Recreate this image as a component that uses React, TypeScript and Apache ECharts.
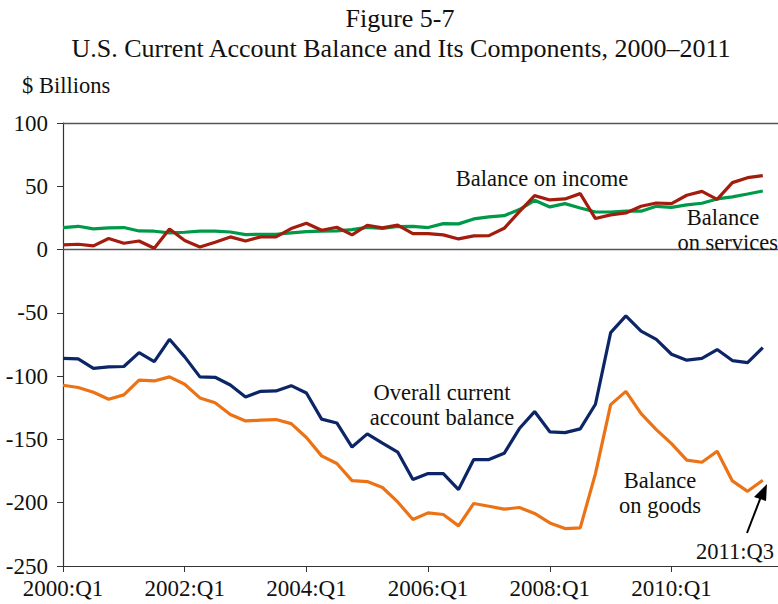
import React, { useEffect, useRef } from "react";
import * as echarts from "echarts";

const years = [2000, 2001, 2002, 2003, 2004, 2005, 2006, 2007, 2008, 2009, 2010, 2011];
const quarters = ["Q1", "Q2", "Q3", "Q4"];
const categories: string[] = [];
years.forEach((y) => quarters.forEach((q) => categories.push(`${y}:${q}`)));

const overall = [
  -86, -86.4, -93.8, -92.7, -92.4, -81.4, -88.5, -70.9, -84.8, -100.6, -100.9, -107,
  -116.4, -112, -111.7, -107.5, -113.3, -134, -137, -156, -145.6, -153, -160, -181.7,
  -177, -177, -189.6, -165.9, -165.9, -161, -141.4, -128, -144, -144.6, -141.7, -122.2,
  -65.6, -52.4, -64.5, -71, -82.7, -87.4, -85.9, -79, -87.7, -89.3, -77.4,
];
const goods = [
  -107.2, -109, -112.7, -118.2, -114.8, -103.2, -103.8, -100.6, -106.4, -117.2, -121.1, -130.3,
  -135.4, -134.8, -134.3, -137.5, -148.5, -163, -169, -182.5, -183.3, -188, -199.4, -213.3,
  -208, -209.3, -218.3, -200.6, -202.8, -205.1, -203.8, -208.5, -216, -220.4, -219.9, -177,
  -122.5, -112, -129.6, -142.2, -153.3, -166.4, -168, -159.3, -182.8, -191, -182.3,
];
const services = [
  17.4, 18.4, 16.3, 17.1, 17.4, 14.7, 14.5, 13.2, 13.7, 14.5, 14.5, 13.9,
  11.8, 12.1, 12.1, 13.2, 14.2, 14.5, 14.7, 15.8, 17.6, 16.8, 18.2, 18.4,
  17.4, 20.5, 20.3, 24.2, 25.8, 26.8, 31.6, 38.9, 33.7, 36.3, 32.9, 29.7,
  29.7, 30.3, 30.3, 34.2, 33.4, 35.3, 36.6, 40, 41.6, 43.9, 46.3,
];
const income = [
  3.7, 4.2, 2.9, 8.7, 5, 6.8, 1, 16.3, 7.1, 2.1, 5.8, 10,
  6.8, 10, 10, 16.6, 20.8, 15.3, 17.6, 11.6, 19.2, 17.1, 19.3, 12.6,
  12.6, 11.6, 8.4, 10.8, 11, 16.8, 30, 42.6, 39.2, 40, 44.2, 24.5,
  27.4, 28.9, 34.2, 36.8, 36.3, 42.9, 46, 39.7, 52.9, 56.8, 58.4,
];

const FONT = "'Liberation Serif', 'Times New Roman', serif";

export default function App() {
  const ref = useRef<HTMLDivElement>(null);
  useEffect(() => {
    if (!ref.current) return;
    const chart = echarts.init(ref.current, undefined, { renderer: "svg" });
    const lineSeries = (name: string, data: number[], color: string, extra: any = {}) => ({
      name,
      type: "line",
      data,
      symbol: "none",
      lineStyle: { color, width: 3.2 },
      itemStyle: { color },
      z: 3,
      ...extra,
    });
    const txt = (text: string, x: number, y: number, align = "center", size = 22.5) => ({
      type: "text",
      x,
      y,
      style: {
        text,
        fill: "#111",
        font: `${size}px ${FONT}`,
        textAlign: align,
        textVerticalAlign: "middle",
      },
      z: 10,
    });
    chart.setOption({
      animation: false,
      grid: { left: 63, right: 0, top: 123, bottom: 38, containLabel: false },
      xAxis: {
        type: "category",
        data: categories,
        boundaryGap: false,
        axisLine: { show: true, onZero: false, lineStyle: { color: "#333", width: 1.2 } },
        axisTick: {
          show: true,
          length: 6,
          interval: (i: number) => i % 8 === 0,
          lineStyle: { color: "#333" },
        },
        axisLabel: {
          interval: (i: number) => i % 8 === 0,
          fontFamily: FONT,
          fontSize: 23,
          color: "#111",
          margin: 11,
        },
        splitLine: { show: false },
      },
      yAxis: {
        type: "value",
        min: -250,
        max: 100,
        interval: 50,
        axisLine: { show: true, lineStyle: { color: "#333", width: 1.2 } },
        axisTick: { show: true, length: 6, lineStyle: { color: "#333" } },
        axisLabel: { fontFamily: FONT, fontSize: 23, color: "#111", margin: 15 },
        splitLine: { show: false },
      },
      series: [
        lineSeries("Balance on services", services, "#00994a", {
          markLine: {
            silent: true,
            symbol: "none",
            label: { show: false },
            lineStyle: { color: "#555", width: 1.4, type: "solid" },
            data: [{ yAxis: 0 }, { yAxis: 100 }],
            z: 1,
          },
        }),
        lineSeries("Balance on income", income, "#a31d0e"),
        lineSeries("Overall current account balance", overall, "#0b2566"),
        lineSeries("Balance on goods", goods, "#eb7316"),
      ],
      graphic: [
        txt("Figure 5-7", 400, 18, "center", 26),
        txt("U.S. Current Account Balance and Its Components, 2000\u20132011", 401, 48, "center", 26),
        txt("$ Billions", 22, 85, "left", 22.5),
        txt("Balance on income", 542, 178),
        txt("Balance", 723, 217),
        txt("on services", 778, 242, "right"),
        txt("Overall current", 442, 392),
        txt("account balance", 442, 417),
        txt("Balance", 660, 480),
        txt("on goods", 660, 505),
        txt("2011:Q3", 735, 551),
        {
          type: "line",
          shape: { x1: 747, y1: 533, x2: 762, y2: 494 },
          style: { stroke: "#000", lineWidth: 2 },
          z: 10,
        },
        {
          type: "polygon",
          shape: { points: [[767, 484], [754, 497], [766, 501]] },
          style: { fill: "#000" },
          z: 10,
        },
      ],
    });
    return () => chart.dispose();
  }, []);
  return (
    <div
      ref={ref}
      style={{ position: "absolute", left: 0, top: 0, width: 778, height: 604, background: "#fff" }}
    />
  );
}
